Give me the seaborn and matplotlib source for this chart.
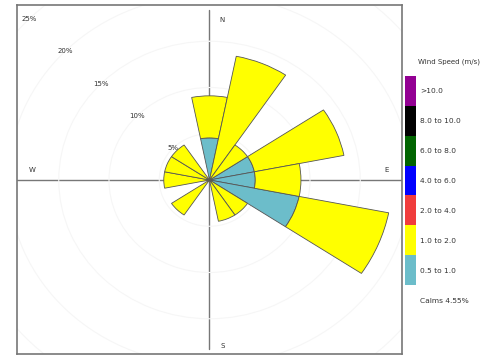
import numpy as np
import matplotlib
matplotlib.use("Agg")
import matplotlib.pyplot as plt
from matplotlib.colors import ListedColormap
import seaborn as sns

# wind rose data (% of hours per direction and speed band)
directions = ["N", "NNE", "NE", "ENE", "E", "ESE", "SE", "SSE",
              "S", "SSW", "SW", "WSW", "W", "WNW", "NW", "NNW"]
speed_05_1 = [4.55, 0, 0, 4.55, 4.55, 9.09, 0, 0, 0, 0, 0, 0, 0, 0, 0, 0]
speed_1_2 = [4.55, 13.64, 4.55, 9.09, 4.55, 9.09, 4.55, 4.55,
             0, 0, 4.55, 0, 4.55, 4.55, 4.55, 0]
ring_levels = [5, 10, 15, 20, 25]
key_labels = [">10.0", "8.0 to 10.0", "6.0 to 8.0", "4.0 to 6.0",
              "2.0 to 4.0", "1.0 to 2.0", "0.5 to 1.0"]
key_colors = ["#930093", "#000000", "#006400", "#0000FF",
              "#F03C3C", "#FFFF00", "#6CBDCA"]
calms = 4.55

sns.set_style("white")
plt.rcParams["font.family"] = ["DejaVu Sans"]

W, H = 481, 356
fig = plt.figure(figsize=(W / 100, H / 100), dpi=100)

# rectangular panel with the compass cross
bx0, bx1, by0, by1 = 17, 402, 5, 354
rect = [bx0 / W, (H - by1) / H, (bx1 - bx0) / W, (by1 - by0) / H]
bg = fig.add_axes(rect)
half_w, half_h = (bx1 - bx0) / 2, (by1 - by0) / 2
bg.set_xlim(-half_w, half_w)
bg.set_ylim(-half_h, half_h)
bg.set_xticks([])
bg.set_yticks([])
for s in bg.spines.values():
    s.set_visible(False)
bg.axhline(0, color="#777777", lw=1)
bg.axvline(0, ymin=0.015, ymax=0.985, color="#777777", lw=1)
for lab, x, y in [("N", 13, 160), ("E", 177, 10), ("S", 13, -166), ("W", -177, 10)]:
    bg.text(x, y, lab, fontsize=5, ha="center", va="center", color="#333333")

# polar axes (slightly squashed vertically, like the original)
cx, cy = 209.5, 180
rmax = 26
sx, sy = 10.05, 9.25
rw, rh = rmax * sx, rmax * sy
ax = fig.add_axes([(cx - rw) / W, (H - cy - rh) / H, 2 * rw / W, 2 * rh / H],
                  projection="polar")
ax.set_aspect("auto")
ax.set_theta_zero_location("N")
ax.set_theta_direction(-1)
ax.set_ylim(0, rmax)
ax.patch.set_alpha(0)
ax.spines["polar"].set_visible(False)
ax.set_xticks([])
ax.set_yticks(ring_levels)
ax.set_yticklabels([])
ax.tick_params(axis="y", length=0)
ax.yaxis.grid(True, color="#f6f6f6", lw=0.8)
ax.xaxis.grid(False)
for gl in ax.yaxis.get_gridlines():
    gl.set_clip_path(bg.patch)

theta = np.deg2rad(np.arange(len(directions)) * 22.5)
width = np.deg2rad(22.5)
ax.bar(theta, speed_05_1, width=width, color=key_colors[6],
       edgecolor="#555555", linewidth=0.6, zorder=3)
ax.bar(theta, speed_1_2, width=width, bottom=speed_05_1, color=key_colors[5],
       edgecolor="#555555", linewidth=0.6, zorder=3)

for r in ring_levels:
    ax.text(np.deg2rad(314), r, f"{r}%", fontsize=5, ha="center", va="center",
            color="#333333", clip_on=False, zorder=4)

# frame drawn on top so the rings don't eat into it
frame = fig.add_axes(rect)
frame.patch.set_alpha(0)
frame.set_xticks([])
frame.set_yticks([])
for s in frame.spines.values():
    s.set_color("#777777")
    s.set_linewidth(1.2)

# speed key
kx0, kx1, ky0, ky1 = 405, 416, 76, 285
kax = fig.add_axes([kx0 / W, (H - ky1) / H, (kx1 - kx0) / W, (ky1 - ky0) / H])
sns.heatmap(np.arange(len(key_labels)).reshape(-1, 1), ax=kax,
            cmap=ListedColormap(key_colors), cbar=False,
            xticklabels=False, yticklabels=key_labels)
kax.yaxis.tick_right()
kax.tick_params(axis="y", length=0, pad=3, labelsize=5.4, labelcolor="#333333",
                labelrotation=0)
for t in kax.get_yticklabels():
    t.set_ha("left")

fig.text(418 / W, (H - 62) / H, "Wind Speed (m/s)", fontsize=5,
         ha="left", va="center", color="#333333")
fig.text(420 / W, (H - 301) / H, f"Calms {calms}%", fontsize=5.4,
         ha="left", va="center", color="#333333")

fig.savefig("out.png", dpi=100)
